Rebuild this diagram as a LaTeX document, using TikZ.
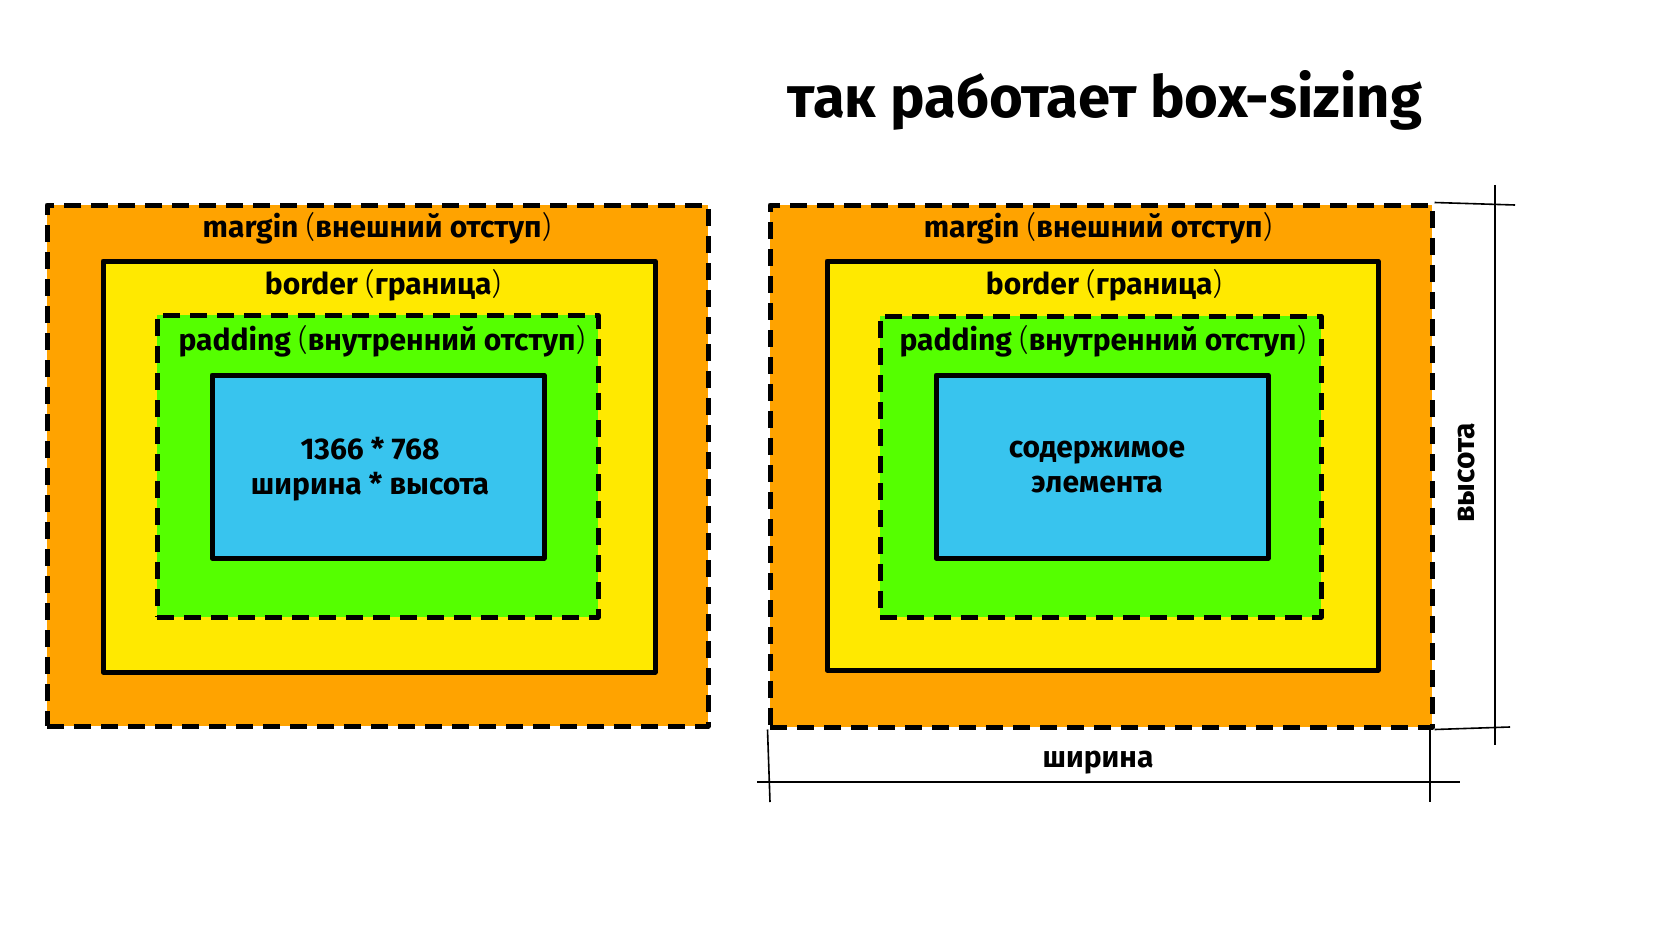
\documentclass[tikz,border=0pt]{standalone}
\usepackage{fontspec}
\setmainfont{Fira Sans}
\newfontfamily\parenfont{Fira Sans Light}
\definecolor{marginorange}{HTML}{FFA300}
\definecolor{borderyellow}{HTML}{FFE900}
\definecolor{paddinggreen}{HTML}{55FF00}
\definecolor{contentblue}{HTML}{38C4EE}
\newcommand{\pr}[1]{{\parenfont\mdseries #1}}
\tikzset{
	layer/.style={draw=black, line width=5pt, inner sep=0pt, line join=round},
	dashlayer/.style={layer, dash pattern=on 17pt off 10pt},
	boxtitle/.style={font=\fontsize{30}{32}\selectfont\bfseries, inner sep=0pt},
	boxtext/.style={font=\fontsize{30}{35}\selectfont\bfseries, align=center, inner sep=0pt},
	dimline/.style={line width=1.6pt}
}
\begin{document}
\begin{tikzpicture}[x=1pt,y=-1pt]
\useasboundingbox (0,0) rectangle (1672,936);

\node[font=\fontsize{58}{60}\selectfont\bfseries] (title) at (1105,100)
	{так работает box-sizing};

% left: 1366 * 768
\node[dashlayer, fill=marginorange, minimum width=661pt, minimum height=521pt] (lmargin) at (377.5,465.5) {};
\node[layer, fill=borderyellow, minimum width=552pt, minimum height=411pt] (lborder) at (379,466.5) {};
\node[dashlayer, fill=paddinggreen, minimum width=441pt, minimum height=302pt] (lpadding) at (377.5,466) {};
\node[layer, fill=contentblue, minimum width=332pt, minimum height=183pt] (lcontent) at (378,466.5) {};

\node[boxtitle] (lmargintext) at (377,228)
	{margin \pr{(}внешний отступ\pr{)}};
\node[boxtitle] (lbordertext) at (383,285)
	{border \pr{(}граница\pr{)}};
\node[boxtitle] (lpaddingtext) at (382,341)
	{padding \pr{(}внутренний отступ\pr{)}};
\node[boxtext] (lcontenttext) at (370,469)
	{1366 * 768\\ширина * высота};

% right: content only
\node[dashlayer, fill=marginorange, minimum width=662pt, minimum height=522pt] (rmargin) at (1101,466) {};
\node[layer, fill=borderyellow, minimum width=551pt, minimum height=409pt] (rborder) at (1102.5,465.5) {};
\node[dashlayer, fill=paddinggreen, minimum width=441pt, minimum height=301pt] (rpadding) at (1100.5,466.5) {};
\node[layer, fill=contentblue, minimum width=332pt, minimum height=183pt] (rcontent) at (1102,466.5) {};

\node[boxtitle] (rmargintext) at (1098,228)
	{margin \pr{(}внешний отступ\pr{)}};
\node[boxtitle] (rbordertext) at (1104,285)
	{border \pr{(}граница\pr{)}};
\node[boxtitle] (rpaddingtext) at (1103,341)
	{padding \pr{(}внутренний отступ\pr{)}};
\node[boxtext] (rcontenttext) at (1097,467)
	{содержимое\\элемента};

% dimensions
\coordinate (htop) at (1495,185);
\coordinate (hbot) at (1495,745);
\coordinate (htickatop) at (1515,205);
\coordinate (htickbbot) at (1510,727);
\coordinate (wleft) at (757,782);
\coordinate (wright) at (1460,782);
\coordinate (wtickaleft) at (770,802);
\coordinate (wtickbright) at (1430,802);
\coordinate (wtickbtop) at (1430,727);

\draw[dimline] (htop) -- (hbot);
\draw[dimline] (rmargin.north east) -- (htickatop);
\draw[dimline] (rmargin.south east) -- (htickbbot);
\draw[dimline] (wleft) -- (wright);
\draw[dimline] (rmargin.south west) -- (wtickaleft);
\draw[dimline] (wtickbtop) -- (wtickbright);

\node[boxtitle, rotate=90] (heighttext) at (1467,473) {высота};
\node[boxtitle] (widthtext) at (1098,763) {ширина};
\end{tikzpicture}
\end{document}
